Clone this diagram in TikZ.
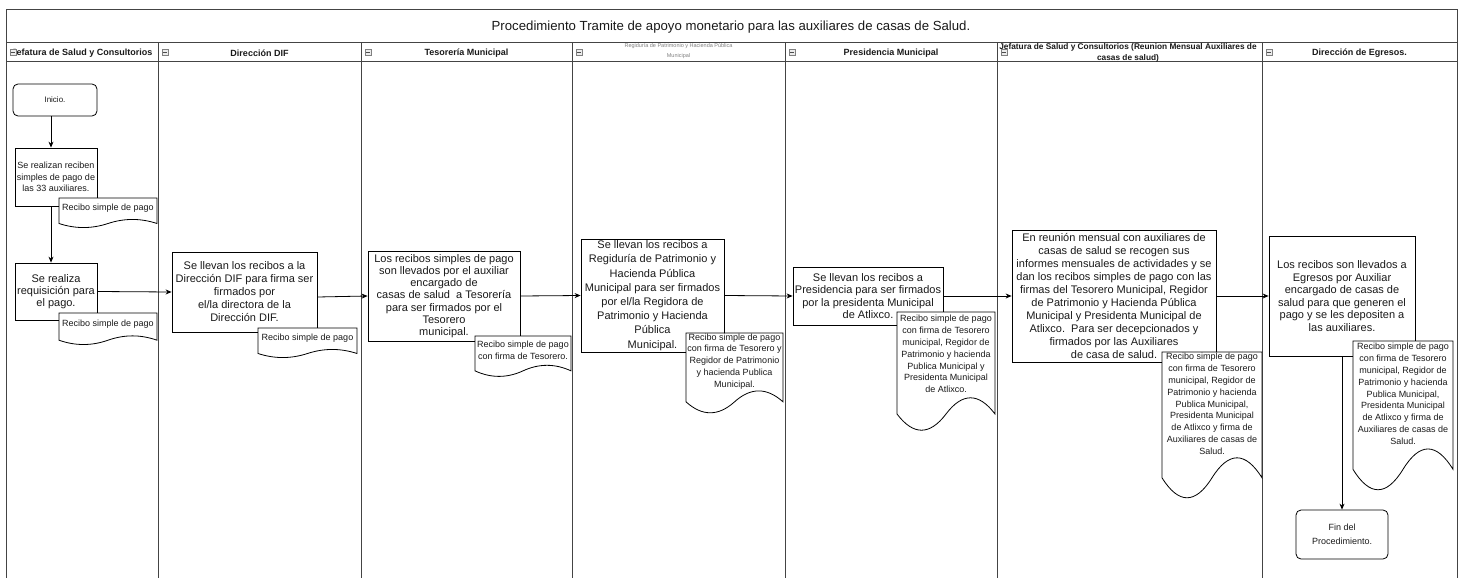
\documentclass[tikz,border=0pt]{standalone}
\usepackage{fontspec}
\setmainfont{Liberation Sans}
\usetikzlibrary{arrows.meta,calc}
\definecolor{lanec}{HTML}{444444}
\definecolor{txt}{HTML}{1A1A1A}
\tikzset{
 lane/.style={draw=lanec, line width=1pt},
 proc/.style={draw=black, line width=0.8pt, fill=white, align=center, inner sep=0pt, text=txt, font=\fontsize{11}{13}\selectfont},
 term/.style={proc, rounded corners=5pt, font=\fontsize{8}{10}\selectfont},
 doctext/.style={align=center, inner sep=0pt, text=txt, font=\fontsize{9}{11.8}\selectfont},
 docshape/.style={draw=black, line width=0.8pt, fill=white},
 arr/.style={draw=black, line width=0.8pt, -{Stealth[length=6pt,width=5pt]}},
 hdr/.style={font=\fontsize{9}{10}\selectfont\bfseries, text=txt, inner sep=0pt},
 icon/.style={draw=gray, fill=gray!15, line width=0.5pt},
}
\newcommand\docbox[6]{%
 \pgfmathsetmacro\docXa{#2}\pgfmathsetmacro\docYa{#3}%
 \pgfmathsetmacro\docXb{#4}\pgfmathsetmacro\docYb{#5}%
 \pgfmathsetmacro\docW{\docXb-\docXa}\pgfmathsetmacro\docH{\docYb-\docYa}%
 \pgfmathsetmacro\docDy{0.3*\docH}%
 \pgfmathsetmacro\docYend{\docYb-0.5*\docDy}%
 \pgfmathsetmacro\docYup{\docYb-1.1*\docDy}%
 \pgfmathsetmacro\docYdn{\docYb+0.1*\docDy}%
 \pgfmathsetmacro\docCa{\docXb-\docW/6}%
 \pgfmathsetmacro\docCb{\docXa+2*\docW/3}%
 \pgfmathsetmacro\docCm{\docXa+\docW/2}%
 \pgfmathsetmacro\docCc{\docXa+\docW/3}%
 \pgfmathsetmacro\docCd{\docXa+\docW/6}%
 \pgfmathsetmacro\docYt{\docYa+0.35*\docH}%
 \draw[docshape] (\docXa,\docYa) -- (\docXb,\docYa) -- (\docXb,\docYend)
   .. controls (\docCa,\docYup) and (\docCb,\docYup) .. (\docCm,\docYend)
   .. controls (\docCc,\docYdn) and (\docCd,\docYdn) .. (\docXa,\docYend) -- cycle;
 \node[doctext] (#1) at (\docCm,\docYt) {#6};
}
\begin{document}
\begin{tikzpicture}[x=1pt,y=-1pt]
\useasboundingbox[fill=white] (0,0) rectangle (1462,578);
% frame and lanes
\draw[lane] (6,578) -- (6,10) -- (1457,10) -- (1457,578);
\draw[lane] (6,43) -- (1457,43);
\draw[lane] (6,62) -- (1457,62);
\foreach \x in {158,361,572,785,997,1262} \draw[lane] (\x,43) -- (\x,578);

\node[font=\fontsize{13.2}{15}\selectfont, text=txt] (title) at (731,27) {Procedimiento Tramite de apoyo monetario para las auxiliares de casas de Salud.};

\node[hdr] (h1) at (82,53) {Jefatura de Salud y Consultorios};
\node[hdr] (h2) at (259.5,53) {Dirección DIF};
\node[hdr] (h3) at (466.5,53) {Tesorería Municipal};
\node[font=\fontsize{5.5}{10}\selectfont, text=gray, align=center, inner sep=0pt] (h4) at (678.5,51.5) {Regiduría de Patrimonio y Hacienda Pública\\Municipal};
\node[hdr] (h5) at (891,53) {Presidencia Municipal};
\node[hdr, font=\fontsize{8.3}{11}\selectfont\bfseries, align=center] (h6) at (1128,53) {Jefatura de Salud y Consultorios (Reunion Mensual Auxiliares de\\casas de salud)};
\node[hdr] (h7) at (1359.5,53) {Dirección de Egresos.};

\foreach \x in {6,158,361,572,785,997,1262} {
  \draw[icon] (\x+4,49) rectangle (\x+10,55);
  \draw[line width=0.6pt, gray!60!black] (\x+5.3,52) -- (\x+8.7,52);
}

% process nodes
\node[term, minimum width=84pt, minimum height=32pt] (inicio) at (55,100) {Inicio.};
\node[proc, font=\fontsize{9}{11.7}\selectfont, minimum width=82pt, minimum height=58pt] (box2) at (56,177) {Se realizan reciben\\simples de pago de\\las 33 auxiliares.};
\node[proc, font=\fontsize{11}{12.2}\selectfont, minimum width=82pt, minimum height=57pt] (box3) at (56,291.5) {Se realiza\\requisición para\\el pago.};
\node[proc, minimum width=145pt, minimum height=80pt] (box4) at (244.5,292) {Se llevan los recibos a la\\Dirección DIF para firma ser\\firmados por\\el/la directora de la\\Dirección DIF.};
\node[proc, font=\fontsize{11}{12.2}\selectfont, minimum width=152pt, minimum height=90pt] (box5) at (444,296) {Los recibos simples de pago\\son llevados por el auxiliar\\encargado de\\casas de salud\ \ a Tesorería\\para ser firmados por el\\Tesorero\\municipal.};
\node[proc, font=\fontsize{11}{14.2}\selectfont, minimum width=143pt, minimum height=113pt] (box6) at (652.5,295.5) {Se llevan los recibos a\\Regiduría de Patrimonio y\\Hacienda Pública\\Municipal para ser firmados\\por el/la Regidora de\\Patrimonio y Hacienda\\Pública\\Municipal.};
\node[proc, font=\fontsize{11}{12.3}\selectfont, minimum width=150pt, minimum height=58pt] (box7) at (868,296) {Se llevan los recibos a\\Presidencia para ser firmados\\por la presidenta Municipal\\de Atlixco.};
\node[proc, font=\fontsize{11}{12.9}\selectfont, minimum width=204pt, minimum height=132pt] (box8) at (1114,296) {En reunión mensual con auxiliares de\\casas de salud se recogen sus\\informes mensuales de actividades y se\\dan los recibos simples de pago con las\\firmas del Tesorero Municipal, Regidor\\de Patrimonio y Hacienda Pública\\Municipal y Presidenta Municipal de\\Atlixco.\ \ Para ser decepcionados y\\firmados por las Auxiliares\\de casa de salud.};
\node[proc, font=\fontsize{11}{12.6}\selectfont, minimum width=146pt, minimum height=120pt] (box9) at (1342,296) {Los recibos son llevados a\\Egresos por Auxiliar\\encargado de casas de\\salud para que generen el\\pago y se les depositen a\\las auxiliares.};
\node[term, font=\fontsize{9}{14}\selectfont, minimum width=92pt, minimum height=49pt] (fin) at (1342,534.5) {Fin del\\Procedimiento.};

% documents
\docbox{d1}{59}{198}{157}{228}{Recibo simple de pago}
\docbox{d2}{59}{313}{157}{345}{Recibo simple de pago}
\docbox{d3}{258}{328}{357}{358}{Recibo simple de pago}
\docbox{d4}{475}{336}{571}{377}{Recibo simple de pago\\con firma de Tesorero.}
\docbox{d5}{686}{333}{783}{414}{Recibo simple de pago\\con firma de Tesorero y\\Regidor de Patrimonio\\y hacienda Publica\\Municipal.}
\docbox{d6}{897}{312}{995}{432}{Recibo simple de pago\\con firma de Tesorero\\municipal, Regidor de\\Patrimonio y hacienda\\Publica Municipal y\\Presidenta Municipal\\de Atlixco.}
\docbox{d7}{1162}{352}{1262}{500}{Recibo simple de pago\\con firma de Tesorero\\municipal, Regidor de\\Patrimonio y hacienda\\Publica Municipal,\\Presidenta Municipal\\de Atlixco y firma de\\Auxiliares de casas de\\Salud.}
\docbox{d8}{1353}{341}{1453}{492}{Recibo simple de pago\\con firma de Tesorero\\municipal, Regidor de\\Patrimonio y hacienda\\Publica Municipal,\\Presidenta Municipal\\de Atlixco y firma de\\Auxiliares de casas de\\Salud.}

% connectors
\draw[arr] ([xshift=-4pt]inicio.south) -- ([xshift=-4pt]inicio.south |- box2.north);
\draw[arr] ([xshift=-5pt]box2.south) -- ([xshift=-5pt]box2.south |- box3.north);
\draw[arr] (box3.east) -- (box4.west);
\draw[arr] ([yshift=-5pt]box4.east) -- (box5.west);
\draw[arr] (box5.east) -- (box6.west);
\draw[arr] (box6.east) -- (box7.west);
\draw[arr] (box7.east) -- (box8.west);
\draw[arr] (box8.east) -- (box9.west);
\draw[arr] (box9.south) -- (fin.north);
\end{tikzpicture}
\end{document}
